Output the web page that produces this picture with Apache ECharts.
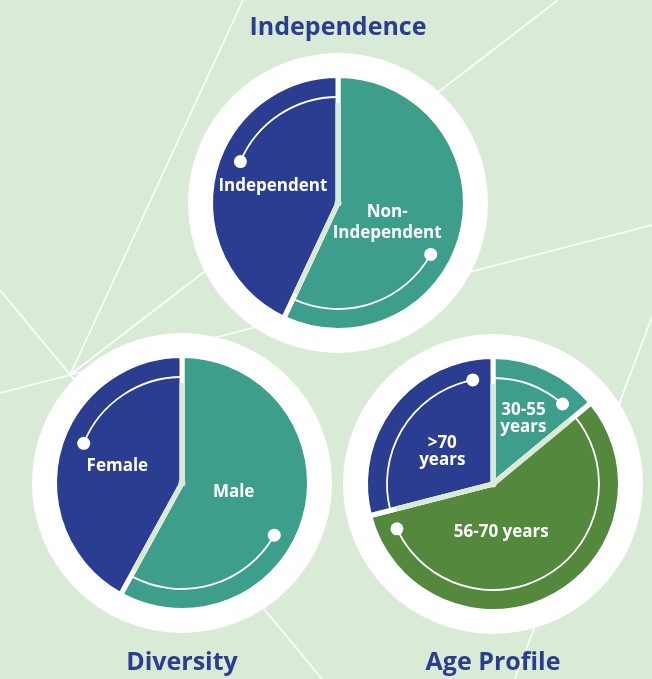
<!DOCTYPE html>
<html lang="en">
<head>
    <meta charset="UTF-8">
    <title>Board profile</title>
    <style>
        html, body { margin: 0; padding: 0; background: #d9ebd6; }
        #main { width: 652px; height: 679px; }
    </style>
</head>
<body>
<div id="main"></div>
<script src="https://cdn.jsdelivr.net/npm/echarts@6/dist/echarts.min.js"></script>
<script>
    // data (percent), order = clockwise from 12 o'clock
    var independenceNames = ['Non-\nIndependent', 'Independent'];
    var independenceValues = [57, 43];
    var diversityNames = ['Male', 'Female'];
    var diversityValues = [58, 42];
    var ageNames = ['30-55\nyears', '56-70 years', '>70\nyears'];
    var ageValues = [14, 57, 29];
    var chartTitles = ['Independence', 'Diversity', 'Age Profile'];

    var BG = '#d9ebd6', BLUE = '#2b3d91', TEAL = '#3d9e8c', GREEN = '#53883d', TITLE = '#2b3d8f';

    // where each doughnut sits; arcs = white inner arc per slice (dot angle, which slice edge it runs to)
    // shift = nudge of each inside label [dx, dy]
    var pies = [
        {names: independenceNames, values: independenceValues, colors: [TEAL, BLUE], cx: 338, cy: 203, titleY: 28,
            lineHeight: 21, shift: [[-16, 5], [0, -2]],
            arcs: [{dot: 119, to: 'end'}, {dot: 293, to: 'end'}]},
        {names: diversityNames, values: diversityValues, colors: [TEAL, BLUE], cx: 182, cy: 483, titleY: 663,
            lineHeight: 21, shift: [[-13, -7], [0, 0]],
            arcs: [{dot: 119.5, to: 'end'}, {dot: 292, to: 'end'}]},
        {names: ageNames, values: ageValues, colors: [TEAL, GREEN, BLUE], cx: 493, cy: 484, titleY: 663,
            lineHeight: 17, shift: [[2, -5], [-22, -11], [2, 9]],
            arcs: [{dot: 41, to: 'start'}, {dot: 245, to: 'start'}, {dot: 349, to: 'start'}]}
    ];

    // white lines of the background pattern
    var bgLines = [
        [0, 290, 322, 679],
        [243, 0, 70, 375],
        [70, 375, 558, 0],
        [0, 393, 652, 225],
        [652, 317, 515, 679]
    ];

    var myChart = echarts.init(document.getElementById('main'));

    function rad(deg) {
        return (deg - 90) * Math.PI / 180;
    }

    // label of a slice, nudged by [dx, dy]: side padding for x, an empty spacer line for y
    function sliceLabel(name, s, lineHeight) {
        var dx = s[0], dy = s[1];
        var text = name.split('\n').map(function (t) {
            return '{t|' + t + '}';
        }).join('\n');
        if (dy > 0) text = '{s| }\n' + text;
        if (dy < 0) text = text + '\n{s| }';
        return {
            formatter: text,
            padding: [0, dx < 0 ? -2 * dx : 0, 0, dx > 0 ? 2 * dx : 0],
            rich: {
                t: {color: '#fff', fontFamily: 'Open Sans', fontWeight: 'bold', fontSize: 17, lineHeight: lineHeight},
                s: {fontSize: 1, lineHeight: Math.max(1, 2 * Math.abs(dy))}
            }
        };
    }

    var graphics = [];
    bgLines.forEach(function (l) {
        graphics.push({type: 'line', z: 0, silent: true,
            shape: {x1: l[0], y1: l[1], x2: l[2], y2: l[3]},
            style: {stroke: '#fff', lineWidth: 1.6}});
    });

    var series = [];
    pies.forEach(function (p, k) {
        graphics.push({type: 'circle', z: 0, silent: true, shape: {cx: p.cx, cy: p.cy, r: 150}, style: {fill: '#fff'}});
        graphics.push({type: 'circle', z: 1, silent: true, shape: {cx: p.cx, cy: p.cy, r: 100}, style: {fill: BG}});
        graphics.push({type: 'text', z: 1, silent: true, x: p.cx, y: p.titleY,
            style: {text: chartTitles[k], fill: TITLE, font: 'bold 25px "Open Sans"', align: 'center', verticalAlign: 'middle'}});

        var total = p.values.reduce(function (a, b) { return a + b; }, 0);
        var acc = 0;
        var edges = [0];
        p.values.forEach(function (v) {
            acc += v;
            edges.push(acc / total * 360);
        });

        // light green gaps in the inner part
        edges.slice(0, -1).forEach(function (a) {
            graphics.push({type: 'line', z: 10, silent: true,
                shape: {x1: p.cx, y1: p.cy, x2: p.cx + 100 * Math.cos(rad(a)), y2: p.cy + 100 * Math.sin(rad(a))},
                style: {stroke: BG, lineWidth: 5}});
        });
        graphics.push({type: 'circle', z: 10, silent: true, shape: {cx: p.cx, cy: p.cy, r: 3.5}, style: {fill: BG}});

        // white arcs with a dot
        p.arcs.forEach(function (a, i) {
            var from, to;
            if (a.to === 'end') { from = a.dot; to = edges[i + 1]; }
            else { from = edges[i]; to = a.dot; }
            graphics.push({type: 'arc', z: 10, silent: true,
                shape: {cx: p.cx, cy: p.cy, r: 106, startAngle: rad(from), endAngle: rad(to), clockwise: true},
                style: {stroke: '#fff', lineWidth: 1.8, fill: null}});
            graphics.push({type: 'circle', z: 10, silent: true,
                shape: {cx: p.cx + 106 * Math.cos(rad(a.dot)), cy: p.cy + 106 * Math.sin(rad(a.dot)), r: 6.5},
                style: {fill: '#fff'}});
        });

        series.push({
            type: 'pie',
            center: [p.cx, p.cy],
            radius: [0, 127.5],
            startAngle: 90,
            clockwise: true,
            silent: true,
            animation: false,
            itemStyle: {borderColor: '#fff', borderWidth: 5},
            label: {
                show: true, position: 'inside', color: '#fff',
                fontFamily: 'Open Sans', fontWeight: 'bold', fontSize: 17, lineHeight: p.lineHeight
            },
            labelLine: {show: false},
            emphasis: {disabled: true},
            data: p.names.map(function (n, i) {
                return {
                    name: n, value: p.values[i], itemStyle: {color: p.colors[i]},
                    label: sliceLabel(n, p.shift[i], p.lineHeight)
                };
            })
        });
    });

    myChart.setOption({
        backgroundColor: BG,
        animation: false,
        graphic: graphics,
        series: series
    });
</script>
</body>
</html>
